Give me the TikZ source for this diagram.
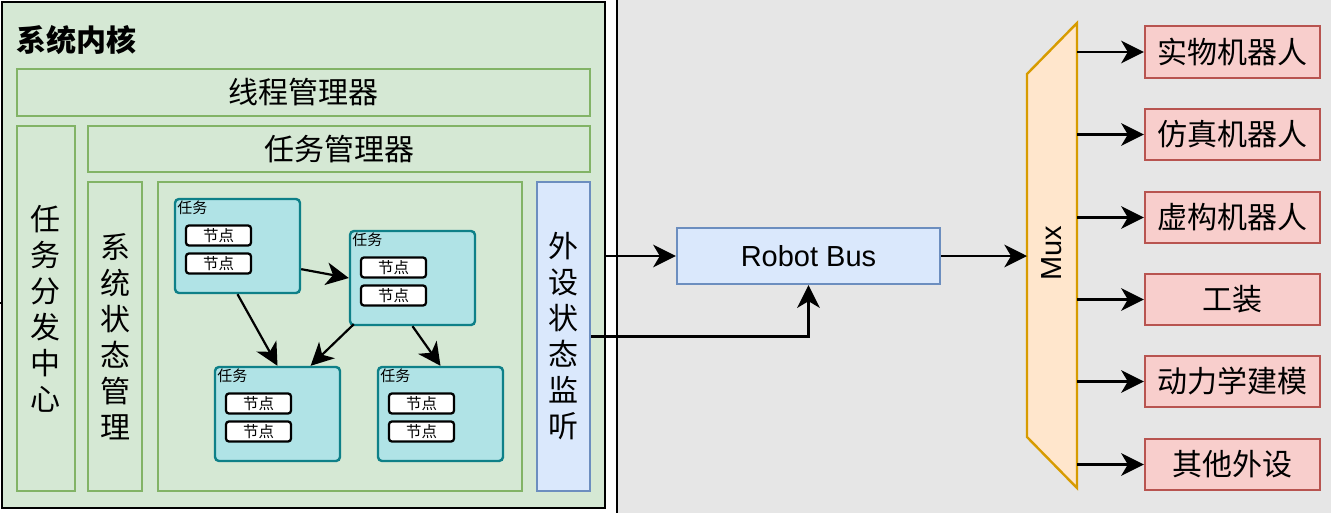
\documentclass[tikz,border=0pt]{standalone}
\usepackage{fontspec}
\setmainfont{Noto Sans CJK SC}
\newfontfamily\latinsf{Liberation Sans}
\usetikzlibrary{arrows.meta,fit,calc}
\definecolor{gfill}{HTML}{D5E8D4}
\definecolor{gline}{HTML}{82B366}
\definecolor{bfill}{HTML}{DAE8FC}
\definecolor{bline}{HTML}{6C8EBF}
\definecolor{tfill}{HTML}{B0E3E6}
\definecolor{tline}{HTML}{0E8088}
\definecolor{ofill}{HTML}{FFE6CC}
\definecolor{oline}{HTML}{D79B00}
\definecolor{rfill}{HTML}{F8CECC}
\definecolor{rline}{HTML}{B85450}
\definecolor{greybg}{HTML}{E6E6E6}
\newcommand\mktask[3]{%
  \node[taskbox, fit={(#2,#3) (#2+125,#3+94)}] (#1) {};
  \node[tasklabel] (#1l) at (#2+2,#3+9) {任务};
  \node[nodebox] (#1a) at (#2+43.5,#3+36.5) {节点};
  \node[nodebox] (#1b) at (#2+43.5,#3+64.5) {节点};
}
\begin{document}
\begin{tikzpicture}[x=0.75pt,y=-0.75pt,
  bigtext/.style={font=\fontsize{22.5}{27}\selectfont, inner sep=0pt, align=center},
  gbox/.style={draw=gline, fill=gfill, line width=1.8pt, inner sep=0pt},
  bbox/.style={draw=bline, fill=bfill, line width=1.8pt, inner sep=0pt},
  rbox/.style={draw=rline, fill=rfill, line width=1.8pt, inner sep=0pt},
  outerbox/.style={draw=black, fill=gfill, line width=2.2pt, inner sep=0pt},
  greyarea/.style={draw=black, fill=greybg, line width=1.6pt, inner sep=0pt},
  taskbox/.style={draw=tline, fill=tfill, line width=1.8pt, inner sep=0pt, rounded corners=3pt},
  tasklabel/.style={anchor=west, inner sep=0pt, font=\fontsize{11.25}{13}\selectfont},
  nodebox/.style={draw=black, fill=white, line width=1.7pt, rounded corners=2.2pt, inner sep=0pt,
    minimum width=48.75pt, minimum height=15pt, font=\fontsize{11.6}{13}\selectfont},
  arr/.style={-{Stealth[length=17pt,width=17pt,inset=5pt]}, line width=1.65pt, draw=black},
  latintext/.style={font=\latinsf\fontsize{21.75}{26}\selectfont, inner sep=0pt}
]
\useasboundingbox (0,0) rectangle (1331,512);
\clip (0,0) rectangle (1331,512);
\fill[white] (0,0) rectangle (1331,512);
\node[greyarea, fit={(617,-10) (1345,525)}] (right) {};

% system kernel
\node[outerbox, fit={(2,2) (605,508)}] (outer) {};
\node[anchor=west, inner sep=0pt, font=\bfseries\fontsize{22.5}{27}\selectfont] (title) at (16,40) {系统内核};
\node[gbox, fit={(17,69) (590,116)}] (thread) {};
\node[bigtext] (threadt) at (thread.center) {线程管理器};
\node[gbox, fit={(17,126) (75,491)}] (dispatch) {};
\node[bigtext] (dispatcht) at (dispatch.center) {任\\务\\分\\发\\中\\心};
\node[gbox, fit={(88,126) (590,172)}] (taskmgr) {};
\node[bigtext] (taskmgrt) at (taskmgr.center) {任务管理器};
\node[gbox, fit={(88,182) (142,491)}] (sysstate) {};
\node[bigtext] (sysstatet) at (sysstate.center) {系\\统\\状\\态\\管\\理};
\node[gbox, fit={(158,182) (522,491)}] (area) {};
\node[bbox, fit={(537,182) (590,491)}] (periph) {};
\node[bigtext] (periphT) at (periph.center) {外\\设\\状\\态\\监\\听};

\mktask{t1}{175}{199}
\mktask{t2}{350}{231}
\mktask{t3}{215}{367}
\mktask{t4}{378}{367}

\draw[arr] ($(t1.north east)!0.74!(t1.south east)$) -- (t2.west);
\draw[arr] (t1.south) -- (t3.north);
\draw[arr] ($(t2.south west)+(5,-2)$) -- ($(t3.north west)!0.76!(t3.north east)$);
\draw[arr] (t2.south) -- (t4.north);

\coordinate (tick) at (0,303);
\draw[line width=1.2pt] (tick) -- (outer.west |- tick);

% bus
\node[bbox, fit={(677,228) (940,284)}] (bus) {};
\node[latintext] (bust) at (bus.center) {Robot Bus};
\draw[arr] (outer.east |- bus.west) -- (bus.west);
\draw[arr] (periph.east) -| (bus.south);

% mux
\draw[draw=oline, fill=ofill, line width=1.8pt] (1027,74) -- (1077,23) -- (1077,488) -- (1027,437) -- cycle;
\coordinate (muxW) at (1027,256);
\coordinate (muxE) at (1077,256);
\node[latintext, rotate=90] (mux) at (1052,253.5) {Mux};
\draw[arr] (bus.east) -- (bus.east -| muxW);

% outputs
\node[rbox, fit={(1145,26) (1320,78)}] (r1) {};
\node[rbox, fit={(1145,109) (1320,160)}] (r2) {};
\node[rbox, fit={(1145,192) (1320,243)}] (r3) {};
\node[rbox, fit={(1145,274) (1320,325)}] (r4) {};
\node[rbox, fit={(1145,356) (1320,407)}] (r5) {};
\node[rbox, fit={(1145,439) (1320,490)}] (r6) {};
\node[bigtext] (r1t) at (r1.center) {实物机器人};
\node[bigtext] (r2t) at (r2.center) {仿真机器人};
\node[bigtext] (r3t) at (r3.center) {虚构机器人};
\node[bigtext] (r4t) at (r4.center) {工装};
\node[bigtext] (r5t) at (r5.center) {动力学建模};
\node[bigtext] (r6t) at (r6.center) {其他外设};
\foreach \r in {r1,r2,r3,r4,r5,r6}{
  \draw[arr] (\r.west -| muxE) -- (\r.west);
}
\end{tikzpicture}
\end{document}
